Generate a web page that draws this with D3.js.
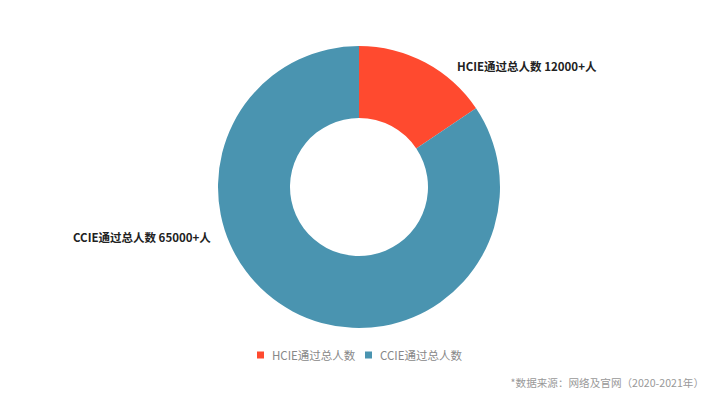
<!DOCTYPE html>
<html><head><meta charset="utf-8">
<script src="https://cdn.jsdelivr.net/npm/d3@7"></script>
<style>body{margin:0;background:#fff;}svg{display:block;font-family:"Noto Sans CJK SC","Noto Sans",sans-serif;}</style>
</head><body>
<svg id="c" width="720" height="405"></svg>
<script>
const categories = ["HCIE通过总人数", "CCIE通过总人数"];
const values = [12000, 65000];
const labels = ["HCIE通过总人数 12000+人", "CCIE通过总人数 65000+人"];
const colors = ["#FF4A2F", "#4A94B0"];
const source = "*数据来源：网络及官网（2020-2021年）";

const svg = d3.select("#c");
const cx = 359, cy = 187, rOut = 141, rIn = 69;
const data = categories.map((c, i) => ({name: c, value: values[i], label: labels[i], color: colors[i]}));
const pie = d3.pie().value(d => d.value).sort(null);
const arc = d3.arc().innerRadius(rIn).outerRadius(rOut);
const g = svg.append("g").attr("transform", `translate(${cx},${cy})`);
const arcs = pie(data);
g.selectAll("path").data(arcs).join("path").attr("d", arc).attr("fill", d => d.data.color);

// labels
const labelPos = [{x: 457, y: 71, anchor: "start"}, {x: 73, y: 242, anchor: "start"}];
svg.selectAll("text.lbl").data(data).join("text").attr("class", "lbl")
  .attr("x", (d, i) => labelPos[i].x).attr("y", (d, i) => labelPos[i].y)
  .attr("text-anchor", (d, i) => labelPos[i].anchor)
  .attr("font-size", 11.5).attr("font-weight", "bold").attr("fill", "#222")
  .text(d => d.label);

// legend
const legX = [257, 365];
const lg = svg.selectAll("g.leg").data(data).join("g").attr("class", "leg")
  .attr("transform", (d, i) => `translate(${legX[i]},355)`);
lg.append("rect").attr("x", 0).attr("y", -3.5).attr("width", 7).attr("height", 7).attr("fill", d => d.color);
lg.append("text").attr("x", 15).attr("y", 4.5).attr("font-size", 11.5).attr("fill", "#888").text(d => d.name);

svg.append("text").attr("x", 704).attr("y", 387).attr("text-anchor", "end")
  .attr("font-size", 10.6).attr("fill", "#999").text(source);
</script>
</body></html>
